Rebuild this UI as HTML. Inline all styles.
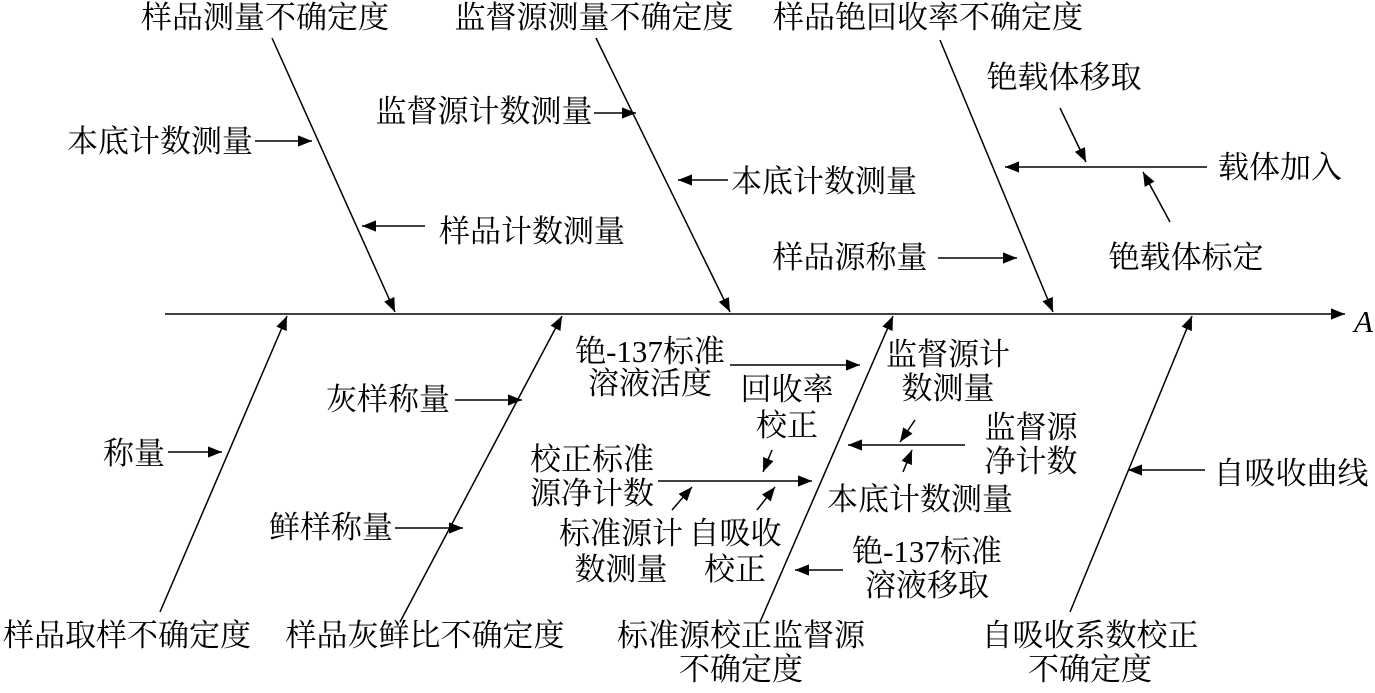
<!DOCTYPE html>
<html><head><meta charset="utf-8"><style>
html,body{margin:0;padding:0;background:#fff}
svg text{font-family:"Liberation Serif","Noto Serif CJK SC",serif;font-size:31px;fill:#000}
</style></head><body>
<svg width="1375" height="688" viewBox="0 0 1375 688" xmlns="http://www.w3.org/2000/svg">
<defs><marker id="a" viewBox="0 0 10 10" refX="10" refY="5" markerWidth="14" markerHeight="14" markerUnits="userSpaceOnUse" orient="auto"><path d="M0,1 L10,5 L0,9 z" fill="#000"/></marker></defs>
<g stroke="#000" stroke-width="1.5" fill="none" marker-end="url(#a)">
<line x1="165" y1="314" x2="1345" y2="314"/>
<line x1="272" y1="38" x2="395" y2="312"/>
<line x1="596" y1="38" x2="730" y2="312"/>
<line x1="940" y1="40" x2="1053" y2="312"/>
<line x1="160" y1="612" x2="287" y2="316"/>
<line x1="400" y1="622" x2="562" y2="316"/>
<line x1="760" y1="622" x2="893" y2="316"/>
<line x1="1070" y1="612" x2="1192" y2="316"/>
<line x1="255" y1="141" x2="312" y2="141"/>
<line x1="425" y1="226" x2="362" y2="226"/>
<line x1="594" y1="113" x2="636" y2="113"/>
<line x1="728" y1="180" x2="678" y2="180"/>
<line x1="938" y1="258" x2="1017" y2="258"/>
<line x1="1207" y1="167" x2="1005" y2="167"/>
<line x1="1060" y1="108" x2="1086" y2="162"/>
<line x1="1170" y1="222" x2="1143" y2="172"/>
<line x1="168" y1="452" x2="222" y2="452"/>
<line x1="455" y1="400" x2="522" y2="400"/>
<line x1="395" y1="528" x2="463" y2="528"/>
<line x1="730" y1="365" x2="860" y2="365"/>
<line x1="772" y1="450" x2="763" y2="472"/>
<line x1="658" y1="481" x2="812" y2="481"/>
<line x1="672" y1="510" x2="692" y2="487"/>
<line x1="757" y1="510" x2="775" y2="487"/>
<line x1="915" y1="420" x2="900" y2="442"/>
<line x1="965" y1="445" x2="848" y2="445"/>
<line x1="903" y1="472" x2="912" y2="450"/>
<line x1="843" y1="570" x2="795" y2="570"/>
<line x1="1205" y1="470" x2="1128" y2="470"/>
</g>
<text x="1354" y="332" font-style="italic">A</text>
<g text-anchor="middle">
<text x="265" y="28">样品测量不确定度</text>
<text x="594" y="28">监督源测量不确定度</text>
<text x="928" y="28">样品铯回收率不确定度</text>
<text x="127" y="646">样品取样不确定度</text>
<text x="425" y="646">样品灰鲜比不确定度</text>
<text x="741" y="646">标准源校正监督源</text>
<text x="741" y="680">不确定度</text>
<text x="1090" y="646">自吸收系数校正</text>
<text x="1090" y="680">不确定度</text>
<text x="160" y="152">本底计数测量</text>
<text x="532" y="242">样品计数测量</text>
<text x="484" y="122">监督源计数测量</text>
<text x="824" y="192">本底计数测量</text>
<text x="850" y="268">样品源称量</text>
<text x="1064" y="88">铯载体移取</text>
<text x="1280" y="178">载体加入</text>
<text x="1186" y="268">铯载体标定</text>
<text x="134" y="464">称量</text>
<text x="388" y="410">灰样称量</text>
<text x="331" y="538">鲜样称量</text>
<text x="650" y="362">铯-137标准</text>
<text x="650" y="394">溶液活度</text>
<text x="787" y="400">回收率</text>
<text x="787" y="436">校正</text>
<text x="592" y="470">校正标准</text>
<text x="592" y="504">源净计数</text>
<text x="621" y="544">标准源计</text>
<text x="621" y="580">数测量</text>
<text x="735" y="544">自吸收</text>
<text x="735" y="580">校正</text>
<text x="948" y="365">监督源计</text>
<text x="948" y="399">数测量</text>
<text x="1031" y="438">监督源</text>
<text x="1031" y="472">净计数</text>
<text x="920" y="510">本底计数测量</text>
<text x="927" y="562">铯-137标准</text>
<text x="927" y="596">溶液移取</text>
<text x="1291" y="484">自吸收曲线</text>
</g>
</svg>
</body></html>
